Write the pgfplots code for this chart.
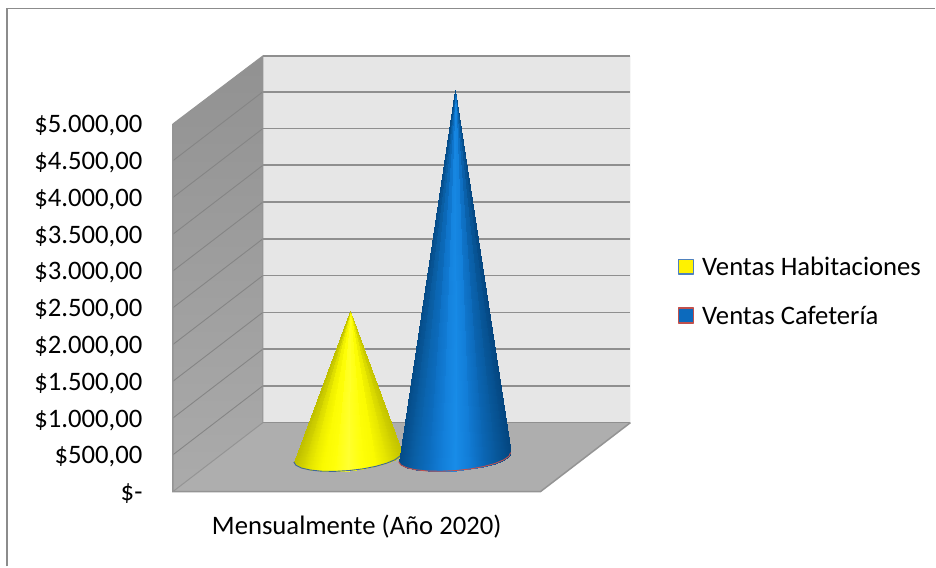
\documentclass[border=0pt]{standalone}
\usepackage{fontspec}
\setmainfont{Carlito}
\usepackage{pgfplots}
\pgfplotsset{compat=1.18}

\definecolor{marco}{HTML}{8C8C8C}
\definecolor{pared}{HTML}{E6E6E6}
\definecolor{piso}{HTML}{AEAEAE}
\definecolor{rejilla}{HTML}{8F8F8F}
\definecolor{bordeHab}{HTML}{4F81BD}
\definecolor{bordeCaf}{HTML}{C0504D}
\definecolor{azulLeyenda}{HTML}{0C6ABD}

% Cone surfaces: dark at both silhouettes, bright along the middle
\pgfplotsset{
  colormap={conoamarillo}{rgb255=(190,190,0) rgb255=(225,225,0) rgb255=(250,250,0) rgb255=(255,255,10)
    rgb255=(255,255,50) rgb255=(255,255,10) rgb255=(250,250,0) rgb255=(225,225,0) rgb255=(195,195,0)},
  colormap={conoazul}{rgb255=(5,75,135) rgb255=(10,95,165) rgb255=(12,108,190) rgb255=(18,125,215)
    rgb255=(24,140,232) rgb255=(18,125,215) rgb255=(12,105,185) rgb255=(8,88,155) rgb255=(4,70,128)},
}

\begin{document}
\begin{tikzpicture}
\begin{axis}[
  width=936pt, height=567pt, scale only axis,
  xmin=0, xmax=936, ymin=-1019, ymax=6685,
  point meta min=0, point meta max=1,
  clip=false,
  axis line style={draw=none},
  major tick length=0pt,
  xtick={357}, xticklabels={Mensualmente (Año 2020)},
  xticklabel style={font=\fontsize{26.7}{30}\selectfont, yshift=55.5pt},
  ytick={0,500,...,5000},
  yticklabels={\$-,{\$500,00},{\$1.000,00},{\$1.500,00},{\$2.000,00},{\$2.500,00},{\$3.000,00},{\$3.500,00},{\$4.000,00},{\$4.500,00},{\$5.000,00}},
  yticklabel style={font=\fontsize{26.7}{30}\selectfont, anchor=base east, xshift=146pt, yshift=-9pt},
  legend cell align=left,
  legend style={draw=none, fill=none, at={(axis cs:678,3222)}, anchor=north west,
    font=\fontsize{26.7}{30}\selectfont, row sep=25pt, inner sep=0pt},
]
% Chart frame: left and top sides
\addplot[marco, line width=1.8pt, forget plot] coordinates {(7,-1019) (7,6570) (936,6570)};

% Back wall, side wall and floor of the box
\addplot[draw=none, fill=pared, forget plot] coordinates {(263,937.5) (631,937.5) (631,5925) (263,5925)} \closedcycle;
\addplot[draw=none, shade, top color=black!43, bottom color=black!33, forget plot]
  coordinates {(173,0) (263,937.5) (263,5925) (173,5000)} -- cycle;
\addplot[draw=none, fill=piso, forget plot] coordinates {(173,0) (541,0) (631,937.5) (263,937.5)} -- cycle;

% Gridlines on the back wall
\addplot[rejilla, line width=1.7pt, forget plot] table {
263 937.5
631 937.5

263 1437.5
631 1437.5

263 1937.5
631 1937.5

263 2437.5
631 2437.5

263 2937.5
631 2937.5

263 3437.5
631 3437.5

263 3937.5
631 3937.5

263 4437.5
631 4437.5

263 4937.5
631 4937.5

263 5437.5
631 5437.5

263 5925
631 5925
};
% Gridlines running across the side wall
\addplot[black!48, line width=0.9pt, forget plot] table {
173 500
263 1437.5

173 1000
263 1937.5

173 1500
263 2437.5

173 2000
263 2937.5

173 2500
263 3437.5

173 3000
263 3937.5

173 3500
263 4437.5

173 4000
263 4937.5

173 4500
263 5437.5
};
% Box edges
\addplot[black!42, line width=1.5pt, forget plot] coordinates {(173,5000) (173,0) (541,0) (631,937.5)};
\addplot[black!42, line width=1pt, forget plot] coordinates {(173,0) (263,937.5) (263,5925) (173,5000)};

% Ventas Habitaciones: cone of 1985 standing halfway along the floor depth
\addplot[patch, shader=interp, colormap name=conoamarillo, yshift=34.5pt,
  point meta=\thisrow{c},
  legend image code/.code={\draw[yshift=-34.5pt, bordeHab, line width=1.8pt, fill=yellow] (0pt,-7.5pt) rectangle (15pt,7.5pt); \path[yshift=-34.5pt] (21.5pt,0pt);}]
  table[x=x, y=y] {
x y c
350 1985 .993
402 66 1
400.5 16 .986
350 1985 .962
400.5 16 .986
395.4 -35 .939
350 1985 .900
395.4 -35 .939
387 -83 .861
350 1985 .810
387 -83 .861
376 -126 .759
350 1985 .700
376 -126 .759
363.2 -160 .641
350 1985 .576
363.2 -160 .641
349.2 -183 .511
350 1985 .446
349.2 -183 .511
335.2 -194 .381
350 1985 .320
335.2 -194 .381
322 -192 .259
350 1985 .207
322 -192 .259
310.7 -176 .155
350 1985 .113
310.7 -176 .155
301.8 -149 .072
350 1985 .046
301.8 -149 .072
296.1 -111 .019
350 1985 .010
296.1 -111 .019
294 -66 0
};
\addlegendentry{Ventas Habitaciones}
\addplot[bordeHab!80!black, line width=0.9pt, yshift=34.5pt, forget plot]
  coordinates {(402,66) (400.5,16) (395.4,-35) (387,-83) (376,-126) (363.2,-160)
    (349.2,-183) (335.2,-194) (322,-192) (310.7,-176) (301.8,-149) (296.1,-111) (294,-66)};

% Ventas Cafetería: cone of 5000 at the same depth
\addplot[patch, shader=interp, colormap name=conoazul, yshift=34.5pt,
  point meta=\thisrow{c},
  legend image code/.code={\draw[yshift=-34.5pt, bordeCaf, line width=1.8pt, fill=azulLeyenda] (0pt,-7.5pt) rectangle (15pt,7.5pt); \path[yshift=-34.5pt] (21.5pt,0pt);}]
  table[x=x, y=y] {
x y c
455 5000 .993
511 61 1
509.4 11 .986
455 5000 .962
509.4 11 .986
504 -39 .938
455 5000 .900
504 -39 .938
495.4 -87 .861
455 5000 .810
495.4 -87 .861
483.9 -129 .759
455 5000 .699
483.9 -129 .759
470.5 -162 .638
455 5000 .574
470.5 -162 .638
456.1 -183 .510
455 5000 .445
456.1 -183 .510
441.5 -193 .379
455 5000 .319
441.5 -193 .379
427.9 -189 .258
455 5000 .206
427.9 -189 .258
416.2 -173 .154
455 5000 .113
416.2 -173 .154
407 -144 .071
455 5000 .046
407 -144 .071
401.2 -106 .020
455 5000 .010
401.2 -106 .020
399 -61 0
};
\addlegendentry{Ventas Cafetería}
\addplot[bordeCaf, line width=0.9pt, yshift=34.5pt, forget plot]
  coordinates {(511,61) (509.4,11) (504,-39) (495.4,-87) (483.9,-129) (470.5,-162)
    (456.1,-183) (441.5,-193) (427.9,-189) (416.2,-173) (407,-144) (401.2,-106) (399,-61)};
\end{axis}
\end{tikzpicture}
\end{document}
